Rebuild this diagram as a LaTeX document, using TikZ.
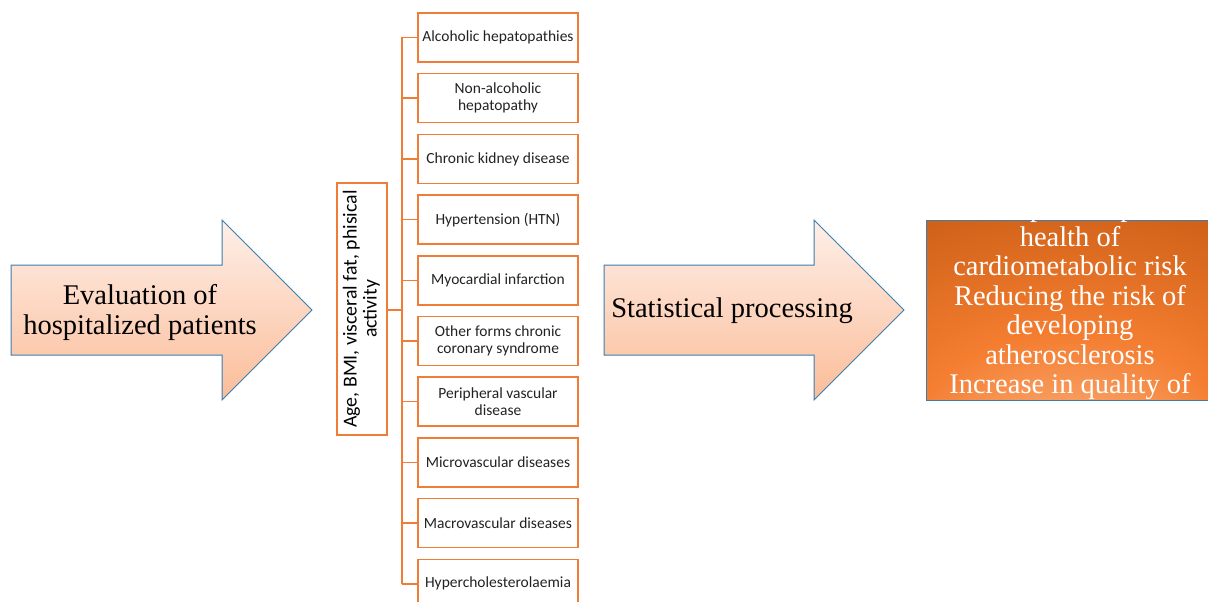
\documentclass[tikz,border=0pt]{standalone}
\usepackage{fontspec}
\usepackage{graphicx}
\setmainfont{Liberation Serif}
\newfontfamily\carlito{Carlito}
\definecolor{orln}{HTML}{F07D35}
\definecolor{arrbd}{HTML}{3A7DAE}
\definecolor{pka}{HTML}{FEEFE8}
\definecolor{pkb}{HTML}{FBBD99}
\definecolor{glowlo}{HTML}{FDC49A}
\definecolor{glowmid}{HTML}{F47D30}
\definecolor{glowhi}{HTML}{C25810}
\definecolor{glowmax}{HTML}{B04E0A}
\definecolor{txtdark}{HTML}{222222}
\pgfdeclareradialshading{boxglow}{\pgfpoint{0bp}{-50bp}}{color(0bp)=(glowlo); color(28bp)=(glowmid); color(60bp)=(glowhi); color(90bp)=(glowmax)}
\tikzset{
  bigarrow/.style={draw=arrbd, line width=1pt, top color=pka, bottom color=pkb},
  bigtext/.style={font=\fontsize{28.5}{30}\selectfont, align=center, text=black},
  listbox/.style={draw=orln, line width=1.5pt, minimum width=160pt, minimum height=49pt,
    align=center, inner sep=2pt, font=\carlito\fontsize{15.5}{17}\selectfont, text=txtdark},
  orline/.style={draw=orln, line width=1.5pt},
}
\begin{document}
\begin{tikzpicture}[x=1pt,y=-1pt]
\useasboundingbox (0,0) rectangle (1208,602);
% first arrow
\path[bigarrow] (11,265) -- (222,265) -- (222,220) -- (312,310) -- (222,400) -- (222,355) -- (11,355) -- cycle;
\node[bigtext] (ev) at (140,312) {Evaluation of\\hospitalized patients};
% vertical box
\node[draw=orln, line width=1.5pt, minimum width=50pt, minimum height=252pt, inner sep=0pt] (vb) at (362,309)
  {\rotatebox{90}{\carlito\fontsize{19.8}{23}\selectfont\begin{tabular}{@{}c@{}}Age, BMI, visceral fat, phisical\\[-3pt] activity\end{tabular}}};
% list boxes
\node[listbox] (b1) at (498,37.5) {Alcoholic hepatopathies};
\node[listbox] (b2) at (498,98.2) {Non-alcoholic\\hepatopathy};
\node[listbox] (b3) at (498,158.9) {Chronic kidney disease};
\node[listbox] (b4) at (498,219.6) {Hypertension (HTN)};
\node[listbox] (b5) at (498,280.3) {Myocardial infarction};
\node[listbox] (b6) at (498,341) {Other forms chronic\\coronary syndrome};
\node[listbox] (b7) at (498,401.7) {Peripheral vascular\\disease};
\node[listbox] (b8) at (498,462.4) {Microvascular diseases};
\node[listbox] (b9) at (498,523.1) {Macrovascular diseases};
\node[listbox] (b10) at (498,583.8) {Hypercholesterolaemia};
% connectors
\coordinate (tr) at (402,310);
\draw[orline] (vb.east |- tr) -- (tr);
\draw[orline] (b1.west -| tr) -- (b10.west -| tr);
\foreach \i in {1,...,10}{\draw[orline] (b\i.west -| tr) -- (b\i.west);}
% second arrow
\path[bigarrow] (604,265) -- (814,265) -- (814,220) -- (904,310) -- (814,400) -- (814,355) -- (604,355) -- cycle;
\node[bigtext] (sp) at (732,311) {Statistical processing};
% result box
\node[draw=arrbd, line width=1.2pt, shade, shading=boxglow, minimum width=286pt, minimum height=180pt, anchor=north west, inner sep=0pt] (rb) at (926,220) {};
\node[font=\fontsize{28.5}{29.5}\selectfont, align=center, text=white] (rt) at (1070,310)
  {The impact on public\\health of\\cardiometabolic risk\\Reducing the risk of\\developing\\atherosclerosis\\Increase in quality of\\life};
\end{tikzpicture}
\end{document}
